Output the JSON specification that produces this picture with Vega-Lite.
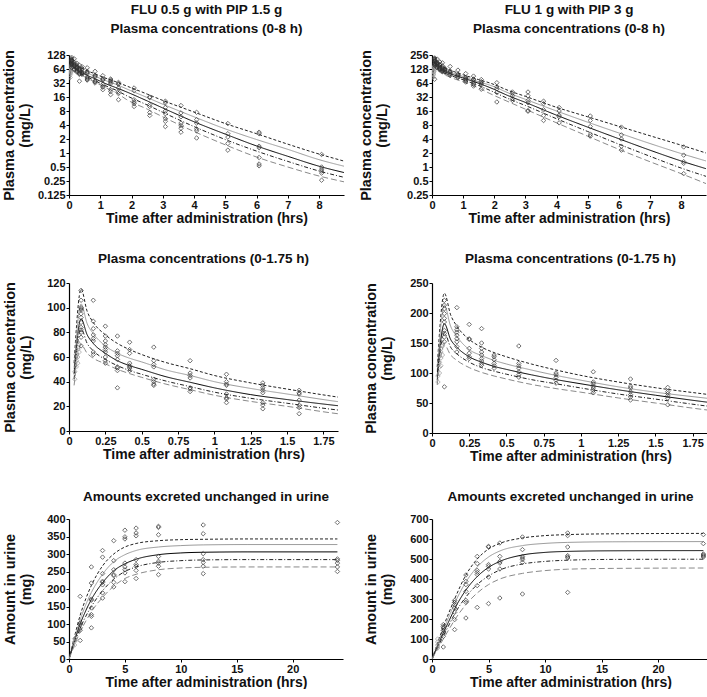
{
"$schema": "https://vega.github.io/schema/vega-lite/v6.json",
"padding": {"left": 1, "top": 3, "right": 0, "bottom": 0},
"columns": 2,
"align": {"row": "each", "column": "each"},
"spacing": {"row": 26, "column": 14},
"config": {
  "font": "Liberation Sans",
  "view": {"stroke": null},
  "axis": {"grid": false, "domainColor": "#000", "tickColor": "#000", "labelColor": "#111", "labelFont": "Liberation Sans", "labelFontWeight": "bold", "labelFontSize": 11, "titleFont": "Liberation Sans", "titleFontWeight": "bold", "titleColor": "#111", "tickSize": 3, "labelPadding": 1, "domainWidth": 1.2, "labelFlush": false, "labelOverlap": false, "titleLineHeight": 16},
  "axisX": {"titlePadding": 1, "titleFontSize": 14},
  "axisY": {"titlePadding": 5, "titleFontSize": 14.5},
  "title": {"font": "Liberation Sans", "fontWeight": "bold", "fontSize": 13.5, "color": "#111", "subtitleFont": "Liberation Sans", "subtitleFontWeight": "bold", "subtitleFontSize": 13.5, "subtitleColor": "#111", "anchor": "middle", "offset": 10, "subtitlePadding": 5}
},
"datasets": {
"c05": [
{"t":0.035,"p95":55,"p75":50,"p50":46,"p25":42,"p5":37},
{"t":0.083,"p95":115,"p75":103,"p50":91,"p25":83,"p5":70},
{"t":0.125,"p95":97,"p75":87,"p50":78,"p25":71,"p5":63},
{"t":0.167,"p95":88,"p75":79,"p50":71,"p25":65,"p5":59},
{"t":0.25,"p95":78,"p75":69,"p50":63,"p25":58,"p5":54.5},
{"t":0.333,"p95":71,"p75":63,"p50":57,"p25":53,"p5":50},
{"t":0.417,"p95":66,"p75":59,"p50":53,"p25":49,"p5":46.5},
{"t":0.5,"p95":62,"p75":56,"p50":50,"p25":46,"p5":43.5},
{"t":0.667,"p95":55.5,"p75":49.5,"p50":44,"p25":40.5,"p5":38},
{"t":0.833,"p95":50.5,"p75":45,"p50":39.5,"p25":36,"p5":33.5},
{"t":1,"p95":45,"p75":40,"p50":35,"p25":31.5,"p5":29},
{"t":1.25,"p95":39,"p75":34.5,"p50":29.5,"p25":26.5,"p5":24},
{"t":1.5,"p95":34,"p75":30,"p50":25.5,"p25":22.5,"p5":20},
{"t":1.85,"p95":27.5,"p75":23.8,"p50":20.5,"p25":17,"p5":14},
{"t":2.5,"p95":18.5,"p75":15.6,"p50":13.2,"p25":10.8,"p5":8.8},
{"t":3,"p95":13.5,"p75":11.2,"p50":9.3,"p25":7.5,"p5":6.0},
{"t":4,"p95":7.6,"p75":6.0,"p50":4.7,"p25":3.7,"p5":2.9},
{"t":5,"p95":4.3,"p75":3.3,"p50":2.55,"p25":1.95,"p5":1.5},
{"t":6,"p95":2.6,"p75":1.95,"p50":1.42,"p25":1.1,"p5":0.82},
{"t":7,"p95":1.55,"p75":1.2,"p50":0.85,"p25":0.66,"p5":0.5},
{"t":8,"p95":0.95,"p75":0.72,"p50":0.52,"p25":0.41,"p5":0.32},
{"t":8.8,"p95":0.67,"p75":0.52,"p50":0.38,"p25":0.30,"p5":0.24}
],
"c1": [
{"t":0.035,"p95":110,"p75":102,"p50":95,"p25":88,"p5":80},
{"t":0.083,"p95":233,"p75":213,"p50":182,"p25":167,"p5":147},
{"t":0.125,"p95":197,"p75":178,"p50":156,"p25":143,"p5":130},
{"t":0.167,"p95":178,"p75":161,"p50":143,"p25":132,"p5":121},
{"t":0.25,"p95":156,"p75":139,"p50":127,"p25":118,"p5":109},
{"t":0.333,"p95":143,"p75":129,"p50":118,"p25":109,"p5":101},
{"t":0.417,"p95":134,"p75":121,"p50":111,"p25":103,"p5":95},
{"t":0.5,"p95":127,"p75":115,"p50":106,"p25":98,"p5":90},
{"t":0.667,"p95":115,"p75":105,"p50":97,"p25":89,"p5":81},
{"t":0.833,"p95":105,"p75":96,"p50":89,"p25":82,"p5":74},
{"t":1,"p95":96,"p75":88,"p50":82,"p25":75,"p5":68},
{"t":1.25,"p95":85,"p75":77,"p50":72,"p25":65,"p5":58.5},
{"t":1.5,"p95":75.5,"p75":68,"p50":63,"p25":56.5,"p5":50},
{"t":1.86,"p95":64,"p75":57.5,"p50":51,"p25":44.5,"p5":38},
{"t":2.5,"p95":43,"p75":38,"p50":33,"p25":28.5,"p5":24.5},
{"t":3,"p95":33,"p75":28.5,"p50":24.5,"p25":21,"p5":17.5},
{"t":4,"p95":19.2,"p75":16,"p50":13,"p25":10.9,"p5":8.9},
{"t":5,"p95":12,"p75":9.2,"p50":7.2,"p25":5.8,"p5":4.6},
{"t":6,"p95":7.5,"p75":5.4,"p50":4.05,"p25":3.1,"p5":2.4},
{"t":7,"p95":4.7,"p75":3.2,"p50":2.3,"p25":1.7,"p5":1.3},
{"t":8,"p95":2.95,"p75":1.95,"p50":1.35,"p25":0.95,"p5":0.72},
{"t":8.8,"p95":2.0,"p75":1.35,"p50":0.92,"p25":0.63,"p5":0.44}
],
"uc05": [
{"t":0,"p95":0,"p75":0,"p50":0,"p25":0,"p5":0},
{"t":0.5,"p95":65,"p75":58,"p50":52,"p25":46,"p5":40},
{"t":1,"p95":125,"p75":112,"p50":100,"p25":88,"p5":78},
{"t":1.5,"p95":172,"p75":155,"p50":138,"p25":122,"p5":108},
{"t":2,"p95":210,"p75":190,"p50":170,"p25":150,"p5":135},
{"t":3,"p95":266,"p75":242,"p50":218,"p25":195,"p5":176},
{"t":4,"p95":300,"p75":278,"p50":252,"p25":228,"p5":208},
{"t":5,"p95":320,"p75":298,"p50":272,"p25":250,"p5":230},
{"t":6,"p95":330,"p75":310,"p50":285,"p25":263,"p5":242},
{"t":8,"p95":338,"p75":320,"p50":298,"p25":276,"p5":255},
{"t":10,"p95":341,"p75":324,"p50":303,"p25":281,"p5":260},
{"t":12,"p95":342,"p75":326,"p50":305,"p25":283,"p5":262},
{"t":16,"p95":343,"p75":327,"p50":306,"p25":284,"p5":263},
{"t":24,"p95":343,"p75":327,"p50":306,"p25":284,"p5":263}
],
"uc1": [
{"t":0,"p95":0,"p75":0,"p50":0,"p25":0,"p5":0},
{"t":0.5,"p95":80,"p75":72,"p50":65,"p25":57,"p5":50},
{"t":1,"p95":160,"p75":145,"p50":130,"p25":115,"p5":100},
{"t":1.5,"p95":232,"p75":212,"p50":190,"p25":170,"p5":148},
{"t":2,"p95":300,"p75":278,"p50":250,"p25":225,"p5":195},
{"t":3,"p95":420,"p75":385,"p50":345,"p25":310,"p5":272},
{"t":4,"p95":500,"p75":460,"p50":412,"p25":372,"p5":330},
{"t":5,"p95":550,"p75":510,"p50":458,"p25":415,"p5":372},
{"t":6,"p95":578,"p75":540,"p50":488,"p25":445,"p5":400},
{"t":8,"p95":605,"p75":567,"p50":520,"p25":475,"p5":428},
{"t":10,"p95":617,"p75":578,"p50":533,"p25":488,"p5":442},
{"t":12,"p95":622,"p75":583,"p50":538,"p25":494,"p5":449},
{"t":16,"p95":626,"p75":586,"p50":541,"p25":498,"p5":453},
{"t":24,"p95":628,"p75":587,"p50":542,"p25":499,"p5":455}
],
"p05": [
{"t":0.04,"v":42},{"t":0.04,"v":48},{"t":0.05,"v":52},{"t":0.05,"v":57},{"t":0.05,"v":62},{"t":0.06,"v":55},{"t":0.06,"v":60},{"t":0.06,"v":66},{"t":0.06,"v":72},{"t":0.07,"v":64},{"t":0.07,"v":70},{"t":0.07,"v":78},
{"t":0.083,"v":114},{"t":0.083,"v":106},{"t":0.083,"v":100},{"t":0.083,"v":99},{"t":0.083,"v":98},{"t":0.083,"v":95},{"t":0.083,"v":92},{"t":0.083,"v":88},{"t":0.083,"v":84},{"t":0.083,"v":82},{"t":0.083,"v":80},{"t":0.083,"v":76},{"t":0.083,"v":69},
{"t":0.167,"v":106},{"t":0.167,"v":89},{"t":0.167,"v":83},{"t":0.167,"v":78},{"t":0.167,"v":75},{"t":0.167,"v":73},{"t":0.167,"v":64},{"t":0.167,"v":62},
{"t":0.25,"v":85},{"t":0.25,"v":77},{"t":0.25,"v":73},{"t":0.25,"v":70},{"t":0.25,"v":68},{"t":0.25,"v":66},{"t":0.25,"v":64},{"t":0.25,"v":60},{"t":0.25,"v":57},{"t":0.25,"v":55},
{"t":0.333,"v":77},{"t":0.333,"v":65},{"t":0.333,"v":63},{"t":0.333,"v":61},{"t":0.333,"v":58},{"t":0.333,"v":52},{"t":0.333,"v":51},{"t":0.333,"v":49},{"t":0.333,"v":35},
{"t":0.417,"v":72},{"t":0.417,"v":66},{"t":0.417,"v":63},{"t":0.417,"v":55},{"t":0.417,"v":53},{"t":0.417,"v":52},{"t":0.417,"v":51},{"t":0.417,"v":49},
{"t":0.583,"v":68},{"t":0.583,"v":57},{"t":0.583,"v":54},{"t":0.583,"v":52},{"t":0.583,"v":42},{"t":0.583,"v":40},{"t":0.583,"v":38},{"t":0.583,"v":37},
{"t":0.833,"v":57},{"t":0.833,"v":47},{"t":0.833,"v":45},{"t":0.833,"v":43},{"t":0.833,"v":35},{"t":0.833,"v":34},{"t":0.833,"v":32},
{"t":1.083,"v":46},{"t":1.083,"v":40},{"t":1.083,"v":38},{"t":1.083,"v":37},{"t":1.083,"v":30},{"t":1.083,"v":27},{"t":1.083,"v":26},{"t":1.083,"v":23},
{"t":1.333,"v":39},{"t":1.333,"v":37},{"t":1.333,"v":35},{"t":1.333,"v":33},{"t":1.333,"v":31},{"t":1.333,"v":23},{"t":1.333,"v":21},{"t":1.333,"v":18},
{"t":1.583,"v":33},{"t":1.583,"v":31},{"t":1.583,"v":30},{"t":1.583,"v":25},{"t":1.583,"v":21},{"t":1.583,"v":19},{"t":1.583,"v":14},
{"t":2.083,"v":25},{"t":2.083,"v":22},{"t":2.083,"v":14},{"t":2.083,"v":12.5},{"t":2.083,"v":11.5},{"t":2.083,"v":10},
{"t":2.583,"v":16},{"t":2.583,"v":15.5},{"t":2.583,"v":11},{"t":2.583,"v":10},{"t":2.583,"v":7.4},{"t":2.583,"v":6.4},
{"t":3.083,"v":13},{"t":3.083,"v":12},{"t":3.083,"v":9.5},{"t":3.083,"v":8},{"t":3.083,"v":7},{"t":3.083,"v":5.5},{"t":3.083,"v":4.8},{"t":3.083,"v":3.7},
{"t":3.583,"v":10.5},{"t":3.583,"v":7.3},{"t":3.583,"v":6},{"t":3.583,"v":4.4},{"t":3.583,"v":3.9},{"t":3.583,"v":3.4},{"t":3.583,"v":2.8},
{"t":4.083,"v":7.5},{"t":4.083,"v":5.2},{"t":4.083,"v":4.4},{"t":4.083,"v":3.3},{"t":4.083,"v":3.0},{"t":4.083,"v":2.1},
{"t":5.083,"v":4.3},{"t":5.083,"v":2.6},{"t":5.083,"v":2.2},{"t":5.083,"v":1.6},{"t":5.083,"v":1.15},
{"t":6.083,"v":2.8},{"t":6.083,"v":2.6},{"t":6.083,"v":1.4},{"t":6.083,"v":1.3},{"t":6.083,"v":0.8},{"t":6.083,"v":0.58},{"t":6.083,"v":0.53},
{"t":8.083,"v":0.93},{"t":8.083,"v":0.5},{"t":8.083,"v":0.45},{"t":8.083,"v":0.41},{"t":8.083,"v":0.37},{"t":8.083,"v":0.26}
],
"p1": [
{"t":0.04,"v":85},{"t":0.04,"v":95},{"t":0.05,"v":100},{"t":0.05,"v":110},{"t":0.05,"v":118},{"t":0.06,"v":112},{"t":0.06,"v":125},{"t":0.06,"v":135},{"t":0.06,"v":140},{"t":0.07,"v":130},{"t":0.07,"v":145},{"t":0.07,"v":150},
{"t":0.083,"v":221},{"t":0.083,"v":213},{"t":0.083,"v":207},{"t":0.083,"v":199},{"t":0.083,"v":191},{"t":0.083,"v":185},{"t":0.083,"v":171},{"t":0.083,"v":166},{"t":0.083,"v":160},{"t":0.083,"v":152},{"t":0.083,"v":77},
{"t":0.167,"v":209},{"t":0.167,"v":177},{"t":0.167,"v":172},{"t":0.167,"v":168},{"t":0.167,"v":163},{"t":0.167,"v":157},{"t":0.167,"v":152},{"t":0.167,"v":144},{"t":0.167,"v":135},
{"t":0.25,"v":181},{"t":0.25,"v":157},{"t":0.25,"v":156},{"t":0.25,"v":141},{"t":0.25,"v":133},{"t":0.25,"v":127},{"t":0.25,"v":124},
{"t":0.333,"v":174},{"t":0.333,"v":150},{"t":0.333,"v":141},{"t":0.333,"v":135},{"t":0.333,"v":130},{"t":0.333,"v":124},{"t":0.333,"v":120},{"t":0.333,"v":116},{"t":0.333,"v":113},
{"t":0.417,"v":130},{"t":0.417,"v":127},{"t":0.417,"v":122},{"t":0.417,"v":116},{"t":0.417,"v":112},{"t":0.417,"v":108},
{"t":0.583,"v":145},{"t":0.583,"v":116},{"t":0.583,"v":112},{"t":0.583,"v":108},{"t":0.583,"v":102},{"t":0.583,"v":97},{"t":0.583,"v":93},
{"t":0.833,"v":121},{"t":0.833,"v":100},{"t":0.833,"v":97},{"t":0.833,"v":93},{"t":0.833,"v":88},{"t":0.833,"v":83},
{"t":1.083,"v":102},{"t":1.083,"v":85},{"t":1.083,"v":82},{"t":1.083,"v":78},{"t":1.083,"v":75},{"t":1.083,"v":71},{"t":1.083,"v":67},
{"t":1.333,"v":90},{"t":1.333,"v":78},{"t":1.333,"v":75},{"t":1.333,"v":69},{"t":1.333,"v":64},{"t":1.333,"v":60},{"t":1.333,"v":55},
{"t":1.583,"v":76},{"t":1.583,"v":69},{"t":1.583,"v":66},{"t":1.583,"v":62},{"t":1.583,"v":58},{"t":1.583,"v":47},
{"t":2.083,"v":65},{"t":2.083,"v":53},{"t":2.083,"v":48},{"t":2.083,"v":40},{"t":2.083,"v":25},
{"t":2.583,"v":41},{"t":2.583,"v":38},{"t":2.583,"v":34},{"t":2.583,"v":29.5},{"t":2.583,"v":27},
{"t":3.083,"v":41},{"t":3.083,"v":34},{"t":3.083,"v":27},{"t":3.083,"v":24},{"t":3.083,"v":16.4},{"t":3.083,"v":15.8},
{"t":3.583,"v":26},{"t":3.583,"v":23},{"t":3.583,"v":17},{"t":3.583,"v":12.8},{"t":3.583,"v":10},
{"t":4.083,"v":19},{"t":4.083,"v":16},{"t":4.083,"v":13},{"t":4.083,"v":12},{"t":4.083,"v":8.9},
{"t":5.083,"v":12.5},{"t":5.083,"v":10},{"t":5.083,"v":7.4},{"t":5.083,"v":5},{"t":5.083,"v":4.6},
{"t":6.083,"v":7.2},{"t":6.083,"v":4.9},{"t":6.083,"v":4},{"t":6.083,"v":2.8},{"t":6.083,"v":2.3},
{"t":8.083,"v":2.7},{"t":8.083,"v":1.8},{"t":8.083,"v":1.3},{"t":8.083,"v":1.2},{"t":8.083,"v":0.72}
],
"u05": [
{"t":0.5,"v":40},{"t":0.5,"v":50},{"t":0.5,"v":58},
{"t":1,"v":179},{"t":1,"v":103},{"t":1,"v":98},{"t":1,"v":89},{"t":1,"v":82},{"t":1,"v":53},
{"t":2,"v":263},{"t":2,"v":217},{"t":2,"v":171},{"t":2,"v":168},{"t":2,"v":146},{"t":2,"v":127},{"t":2,"v":122},{"t":2,"v":89},
{"t":3,"v":310},{"t":3,"v":291},{"t":3,"v":244},{"t":3,"v":222},{"t":3,"v":219},{"t":3,"v":212},{"t":3,"v":189},{"t":3,"v":174},
{"t":4,"v":338},{"t":4,"v":281},{"t":4,"v":255},{"t":4,"v":241},{"t":4,"v":238},{"t":4,"v":219},{"t":4,"v":206},
{"t":5,"v":368},{"t":5,"v":349},{"t":5,"v":343},{"t":5,"v":274},{"t":5,"v":263},{"t":5,"v":255},{"t":5,"v":246},{"t":5,"v":221},
{"t":6,"v":374},{"t":6,"v":360},{"t":6,"v":352},{"t":6,"v":284},{"t":6,"v":270},{"t":6,"v":265},{"t":6,"v":253},{"t":6,"v":230},
{"t":8,"v":379},{"t":8,"v":376},{"t":8,"v":355},{"t":8,"v":293},{"t":8,"v":279},{"t":8,"v":274},{"t":8,"v":265},{"t":8,"v":241},
{"t":12,"v":383},{"t":12,"v":358},{"t":12,"v":301},{"t":12,"v":284},{"t":12,"v":276},{"t":12,"v":265},{"t":12,"v":244},
{"t":24,"v":390},{"t":24,"v":286},{"t":24,"v":282},{"t":24,"v":274},{"t":24,"v":263},{"t":24,"v":250}
],
"u1": [
{"t":0.5,"v":55},{"t":0.5,"v":70},{"t":0.5,"v":85},{"t":0.5,"v":100},
{"t":1,"v":172},{"t":1,"v":163},{"t":1,"v":155},{"t":1,"v":143},{"t":1,"v":130},{"t":1,"v":113},{"t":1,"v":60},
{"t":2,"v":293},{"t":2,"v":283},{"t":2,"v":272},{"t":2,"v":255},{"t":2,"v":233},{"t":2,"v":197},{"t":2,"v":147},
{"t":3,"v":420},{"t":3,"v":388},{"t":3,"v":372},{"t":3,"v":338},{"t":3,"v":293},{"t":3,"v":283},{"t":3,"v":205},
{"t":4,"v":513},{"t":4,"v":477},{"t":4,"v":443},{"t":4,"v":433},{"t":4,"v":422},{"t":4,"v":367},{"t":4,"v":258},
{"t":5,"v":563},{"t":5,"v":560},{"t":5,"v":472},{"t":5,"v":463},{"t":5,"v":450},{"t":5,"v":410},{"t":5,"v":277},
{"t":6,"v":580},{"t":6,"v":513},{"t":6,"v":488},{"t":6,"v":480},{"t":6,"v":450},{"t":6,"v":305},
{"t":8,"v":610},{"t":8,"v":547},{"t":8,"v":513},{"t":8,"v":505},{"t":8,"v":497},{"t":8,"v":483},{"t":8,"v":325},
{"t":12,"v":630},{"t":12,"v":617},{"t":12,"v":560},{"t":12,"v":517},{"t":12,"v":510},{"t":12,"v":505},{"t":12,"v":333},
{"t":24,"v":622},{"t":24,"v":577},{"t":24,"v":525},{"t":24,"v":520},{"t":24,"v":515},{"t":24,"v":510}
]
},
"concat": [
{
 "width": 275, "height": 140,
 "title": {"text": "FLU 0.5 g with PIP 1.5 g", "subtitle": "Plasma concentrations (0-8 h)", "offset": 14},
 "encoding": {
  "x": {"field": "t", "type": "quantitative", "scale": {"domain": [0, 8.8], "nice": false}, "axis": {"title": "Time after administration (hrs)", "values": [0,1,2,3,4,5,6,7,8]}},
  "y": {"field": "v", "type": "quantitative", "scale": {"type": "log", "base": 2, "domain": [0.125, 128], "nice": false}, "axis": {"title": ["Plasma concentration", "(mg/L)"], "values": [0.125,0.25,0.5,1,2,4,8,16,32,64,128], "format": "~g"}}
 },
 "layer": [
  {"data": {"name": "c05"}, "transform": [{"fold": ["p95","p75","p50","p25","p5"], "as": ["q","v"]}],
   "mark": {"type": "line", "strokeWidth": 1, "interpolate": "monotone", "clip": true},
   "encoding": {"color": {"field": "q", "type": "nominal", "scale": {"domain": ["p95","p75","p50","p25","p5"], "range": ["#222","#9a9a9a","#000","#222","#8a8a8a"]}, "legend": null},
                "strokeDash": {"field": "q", "type": "nominal", "scale": {"domain": ["p95","p75","p50","p25","p5"], "range": [[3,2],[1,0],[1,0],[4,2,1,2],[6,3]]}, "legend": null}}},
  {"data": {"name": "p05"}, "mark": {"type": "point", "shape": "diamond", "filled": false, "size": 20, "strokeWidth": 1, "clip": true},
   "encoding": {"color": {"condition": {"test": "datum.t < 0.08", "value": "#9a9a9a"}, "value": "#333"}}}
 ]
},
{
 "width": 274, "height": 140,
 "title": {"text": "FLU 1 g with PIP 3 g", "subtitle": "Plasma concentrations (0-8 h)", "offset": 14},
 "encoding": {
  "x": {"field": "t", "type": "quantitative", "scale": {"domain": [0, 8.8], "nice": false}, "axis": {"title": "Time after administration (hrs)", "values": [0,1,2,3,4,5,6,7,8]}},
  "y": {"field": "v", "type": "quantitative", "scale": {"type": "log", "base": 2, "domain": [0.25, 256], "nice": false}, "axis": {"title": ["Plasma concentration", "(mg/L)"], "values": [0.25,0.5,1,2,4,8,16,32,64,128,256], "format": "~g", "titlePadding": 17}}
 },
 "layer": [
  {"data": {"name": "c1"}, "transform": [{"fold": ["p95","p75","p50","p25","p5"], "as": ["q","v"]}],
   "mark": {"type": "line", "strokeWidth": 1, "interpolate": "monotone", "clip": true},
   "encoding": {"color": {"field": "q", "type": "nominal", "scale": {"domain": ["p95","p75","p50","p25","p5"], "range": ["#222","#9a9a9a","#000","#222","#8a8a8a"]}, "legend": null},
                "strokeDash": {"field": "q", "type": "nominal", "scale": {"domain": ["p95","p75","p50","p25","p5"], "range": [[3,2],[1,0],[1,0],[4,2,1,2],[6,3]]}, "legend": null}}},
  {"data": {"name": "p1"}, "mark": {"type": "point", "shape": "diamond", "filled": false, "size": 20, "strokeWidth": 1, "clip": true},
   "encoding": {"color": {"condition": {"test": "datum.t < 0.08", "value": "#9a9a9a"}, "value": "#333"}}}
 ]
},
{
 "width": 269, "height": 148,
 "title": {"text": "Plasma concentrations (0-1.75 h)", "offset": 12},
 "encoding": {
  "x": {"field": "t", "type": "quantitative", "scale": {"domain": [0, 1.85], "nice": false}, "axis": {"title": "Time after administration (hrs)", "values": [0,0.25,0.5,0.75,1,1.25,1.5,1.75], "format": ".2~f"}},
  "y": {"field": "v", "type": "quantitative", "scale": {"domain": [0, 120], "nice": false}, "axis": {"title": ["Plasma concentration", "(mg/L)"], "values": [0,20,40,60,80,100,120], "titlePadding": 13}}
 },
 "layer": [
  {"data": {"name": "c05"}, "transform": [{"fold": ["p95","p75","p50","p25","p5"], "as": ["q","v"]}],
   "mark": {"type": "line", "strokeWidth": 1, "interpolate": "monotone", "clip": true},
   "encoding": {"color": {"field": "q", "type": "nominal", "scale": {"domain": ["p95","p75","p50","p25","p5"], "range": ["#222","#9a9a9a","#000","#222","#8a8a8a"]}, "legend": null},
                "strokeDash": {"field": "q", "type": "nominal", "scale": {"domain": ["p95","p75","p50","p25","p5"], "range": [[3,2],[1,0],[1,0],[4,2,1,2],[6,3]]}, "legend": null}}},
  {"data": {"name": "p05"}, "transform": [{"filter": "datum.t <= 1.85"}], "mark": {"type": "point", "shape": "diamond", "filled": false, "size": 20, "strokeWidth": 1, "clip": true},
   "encoding": {"color": {"condition": {"test": "datum.t < 0.08", "value": "#9a9a9a"}, "value": "#333"}}}
 ]
},
{
 "width": 277, "height": 150,
 "title": {"text": "Plasma concentrations (0-1.75 h)", "offset": 12},
 "encoding": {
  "x": {"field": "t", "type": "quantitative", "scale": {"domain": [0, 1.86], "nice": false}, "axis": {"title": "Time after administration (hrs)", "values": [0,0.25,0.5,0.75,1,1.25,1.5,1.75], "format": ".2~f"}},
  "y": {"field": "v", "type": "quantitative", "scale": {"domain": [0, 250], "nice": false}, "axis": {"title": ["Plasma concentration", "(mg/L)"], "values": [0,50,100,150,200,250], "titlePadding": 15}}
 },
 "layer": [
  {"data": {"name": "c1"}, "transform": [{"fold": ["p95","p75","p50","p25","p5"], "as": ["q","v"]}],
   "mark": {"type": "line", "strokeWidth": 1, "interpolate": "monotone", "clip": true},
   "encoding": {"color": {"field": "q", "type": "nominal", "scale": {"domain": ["p95","p75","p50","p25","p5"], "range": ["#222","#9a9a9a","#000","#222","#8a8a8a"]}, "legend": null},
                "strokeDash": {"field": "q", "type": "nominal", "scale": {"domain": ["p95","p75","p50","p25","p5"], "range": [[3,2],[1,0],[1,0],[4,2,1,2],[6,3]]}, "legend": null}}},
  {"data": {"name": "p1"}, "transform": [{"filter": "datum.t <= 1.86"}], "mark": {"type": "point", "shape": "diamond", "filled": false, "size": 20, "strokeWidth": 1, "clip": true},
   "encoding": {"color": {"condition": {"test": "datum.t < 0.08", "value": "#9a9a9a"}, "value": "#333"}}}
 ]
},
{
 "width": 274, "height": 140,
 "title": {"text": "Amounts excreted unchanged in urine"},
 "encoding": {
  "x": {"field": "t", "type": "quantitative", "scale": {"domain": [0, 24.5], "nice": false}, "axis": {"title": "Time after administration (hrs)", "values": [0,5,10,15,20]}},
  "y": {"field": "v", "type": "quantitative", "scale": {"domain": [0, 400], "nice": false}, "axis": {"title": ["Amount in urine", "(mg)"], "values": [0,50,100,150,200,250,300,350,400], "titlePadding": 13}}
 },
 "layer": [
  {"data": {"name": "uc05"}, "transform": [{"fold": ["p95","p75","p50","p25","p5"], "as": ["q","v"]}],
   "mark": {"type": "line", "strokeWidth": 1, "interpolate": "monotone", "clip": true},
   "encoding": {"color": {"field": "q", "type": "nominal", "scale": {"domain": ["p95","p75","p50","p25","p5"], "range": ["#222","#9a9a9a","#000","#222","#8a8a8a"]}, "legend": null},
                "strokeDash": {"field": "q", "type": "nominal", "scale": {"domain": ["p95","p75","p50","p25","p5"], "range": [[3,2],[1,0],[1,0],[4,2,1,2],[6,3]]}, "legend": null}}},
  {"data": {"name": "u05"}, "mark": {"type": "point", "shape": "diamond", "filled": false, "size": 20, "strokeWidth": 1, "clip": true},
   "encoding": {"color": {"condition": {"test": "datum.t < 0.8", "value": "#9a9a9a"}, "value": "#333"}}}
 ]
},
{
 "width": 277, "height": 140,
 "title": {"text": "Amounts excreted unchanged in urine"},
 "encoding": {
  "x": {"field": "t", "type": "quantitative", "scale": {"domain": [0, 24.5], "nice": false}, "axis": {"title": "Time after administration (hrs)", "values": [0,5,10,15,20]}},
  "y": {"field": "v", "type": "quantitative", "scale": {"domain": [0, 700], "nice": false}, "axis": {"title": ["Amount in urine", "(mg)"], "values": [0,100,200,300,400,500,600,700], "titlePadding": 15}}
 },
 "layer": [
  {"data": {"name": "uc1"}, "transform": [{"fold": ["p95","p75","p50","p25","p5"], "as": ["q","v"]}],
   "mark": {"type": "line", "strokeWidth": 1, "interpolate": "monotone", "clip": true},
   "encoding": {"color": {"field": "q", "type": "nominal", "scale": {"domain": ["p95","p75","p50","p25","p5"], "range": ["#222","#9a9a9a","#000","#222","#8a8a8a"]}, "legend": null},
                "strokeDash": {"field": "q", "type": "nominal", "scale": {"domain": ["p95","p75","p50","p25","p5"], "range": [[3,2],[1,0],[1,0],[4,2,1,2],[6,3]]}, "legend": null}}},
  {"data": {"name": "u1"}, "mark": {"type": "point", "shape": "diamond", "filled": false, "size": 20, "strokeWidth": 1, "clip": true},
   "encoding": {"color": {"condition": {"test": "datum.t < 0.8", "value": "#9a9a9a"}, "value": "#333"}}}
 ]
}
]
}
